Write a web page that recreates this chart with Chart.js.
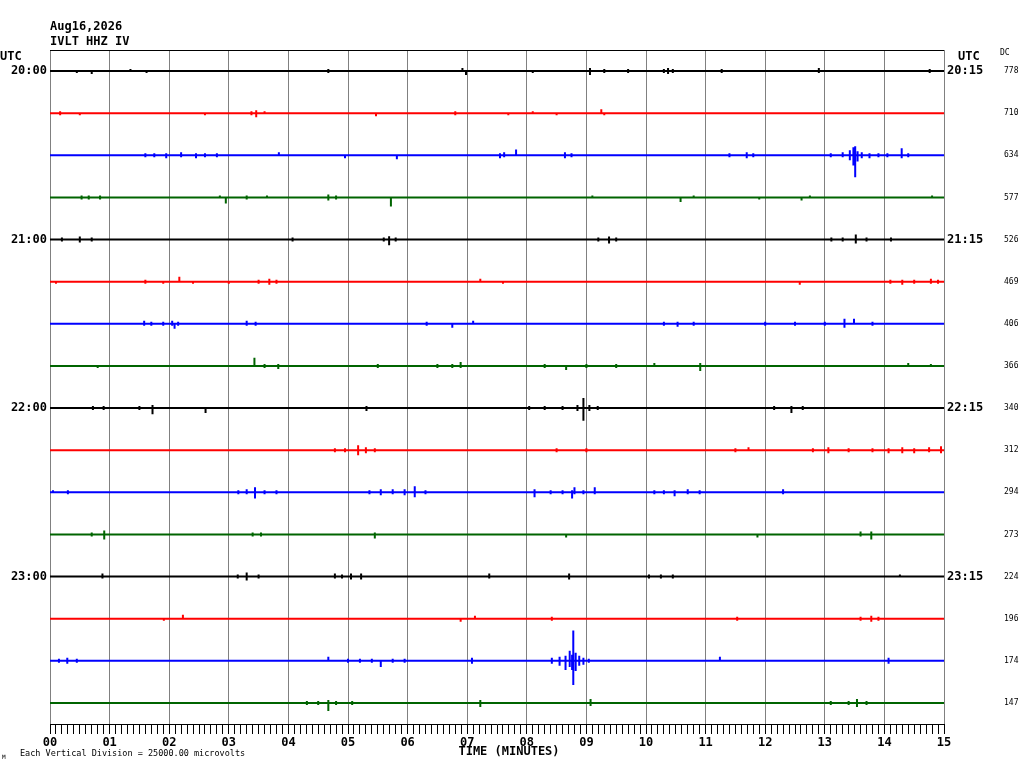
<!DOCTYPE html>
<html>
<head>
<meta charset="utf-8">
<title>IVLT HHZ IV helicorder</title>
<script src="https://cdn.jsdelivr.net/npm/chart.js@4.4.1/dist/chart.umd.min.js"></script>
<style>
  html, body { margin: 0; padding: 0; background: #fff; }
  #heli { display: block; }
</style>
</head>
<body>
<canvas id="heli" width="1024" height="768"></canvas>
<script>
// one row = 15 minutes of trace, 16 rows from 20:00 to 23:45 UTC
const stationLabel = 'IVLT HHZ IV';
const dateLabel = 'Aug16,2026';
const leftTimes = ['20:00', '21:00', '22:00', '23:00'];
const rightTimes = ['20:15', '21:15', '22:15', '23:15'];
const dcValues = ['778', '710', '634', '577', '526', '469', '406', '366',
                  '340', '312', '294', '273', '224', '196', '174', '147'];
const xTickLabels = ['00', '01', '02', '03', '04', '05', '06', '07',
                     '08', '09', '10', '11', '12', '13', '14', '15'];
const microvoltsPerDivision = 25000;

// events: [minute, up (mV), down (mV)]
const ev2000 = [[0.12,0.6,0.6],[0.45,0.6,1.2],[0.70,0.6,1.8],[1.05,0.6,0.6],[1.35,1.2,0.6],[1.62,0.6,1.2],[2.2,0.6,0.6],[2.9,0.6,0.6],[3.5,0.6,0.6],[4.2,0.6,0.6],[4.67,1.2,1.2],[5.3,0.6,0.6],[6.1,0.6,0.6],[6.6,0.6,0.6],[6.92,1.8,0.6],[6.98,0.6,2.4],[7.5,0.6,0.6],[8.1,0.6,1.2],[8.7,0.6,0.6],[9.06,1.8,2.4],[9.3,1.2,1.2],[9.7,1.2,1.2],[10.3,1.2,1.2],[10.37,1.8,1.8],[10.45,1.2,1.2],[11.0,0.6,0.6],[11.27,1.2,1.2],[11.9,0.6,0.6],[12.5,0.6,0.6],[12.9,1.8,1.2],[13.4,0.6,0.6],[14.1,0.6,0.6],[14.76,1.2,1.2]];
const ev2015 = [[0.17,1.2,1.2],[0.5,0.6,1.2],[0.9,0.6,0.6],[1.4,0.6,0.6],[2.0,0.6,0.6],[2.6,0.6,1.2],[3.0,0.6,0.6],[3.38,1.2,1.2],[3.46,1.8,2.4],[3.6,1.2,0.6],[4.3,0.6,0.6],[5.0,0.6,0.6],[5.47,0.6,1.8],[5.9,0.6,0.6],[6.4,0.6,0.6],[6.8,1.2,1.2],[7.2,0.6,0.6],[7.69,0.6,1.2],[8.1,1.2,0.6],[8.5,0.6,1.2],[9.0,0.6,0.6],[9.25,2.4,0.6],[9.3,0.6,1.2],[9.9,0.6,0.6],[10.5,0.6,0.6],[11.2,0.6,0.6],[12.0,0.6,0.6],[12.8,0.6,0.6],[13.4,0.6,0.6],[14.2,0.6,0.6]];
const ev2030 = [[0.5,0.6,0.6],[1.0,0.6,0.6],[1.6,1.2,1.2],[1.75,1.2,1.2],[1.95,1.2,1.8],[2.2,1.8,1.2],[2.45,1.2,1.8],[2.6,1.2,1.2],[2.8,1.2,1.2],[3.2,0.6,0.6],[3.84,1.8,0.6],[4.3,0.6,0.6],[4.95,0.6,1.8],[5.4,0.6,0.6],[5.82,0.6,2.4],[6.3,0.6,0.6],[6.8,0.6,0.6],[7.2,0.6,0.6],[7.55,1.2,1.8],[7.62,1.8,1.2],[7.82,3.4,0.6],[8.2,0.6,0.6],[8.64,1.8,1.8],[8.75,1.2,1.2],[9.3,0.6,0.6],[10.0,0.6,0.6],[10.6,0.6,0.6],[11.4,1.2,1.2],[11.69,1.8,1.8],[11.8,1.2,1.2],[12.3,0.6,0.6],[12.8,0.6,0.6],[13.1,1.2,1.2],[13.3,1.8,1.2],[13.42,3.0,3.0],[13.48,4.8,6.0],[13.51,5.4,13.0],[13.55,2.4,3.6],[13.62,1.8,1.8],[13.75,1.2,1.8],[13.9,1.2,1.2],[14.05,1.2,1.2],[14.29,4.2,1.8],[14.4,1.2,1.2],[14.7,0.6,0.6]];
const ev2045 = [[0.3,0.6,0.6],[0.53,1.2,1.2],[0.65,1.2,1.2],[0.84,1.2,1.2],[1.3,0.6,0.6],[1.9,0.6,0.6],[2.5,0.6,0.6],[2.85,1.2,0.6],[2.95,0.6,3.6],[3.3,1.2,1.2],[3.64,1.2,0.6],[3.9,0.6,0.6],[4.5,0.6,0.6],[4.67,1.8,1.8],[4.8,1.2,1.2],[5.2,0.6,0.6],[5.72,0.6,5.4],[6.2,0.6,0.6],[6.8,0.6,0.6],[7.4,0.6,0.6],[8.0,0.6,0.6],[8.6,0.6,0.6],[9.1,1.2,0.6],[9.6,0.6,0.6],[10.2,0.6,0.6],[10.58,0.6,2.7],[10.8,1.2,0.6],[11.4,0.6,0.6],[11.9,0.6,1.2],[12.4,0.6,0.6],[12.61,0.6,1.8],[12.75,1.2,0.6],[13.3,0.6,0.6],[14.0,0.6,0.6],[14.8,1.2,0.6]];
const ev2100 = [[0.2,1.2,1.2],[0.5,1.8,1.8],[0.7,1.2,1.2],[1.2,0.6,0.6],[1.8,0.6,0.6],[2.5,0.6,0.6],[3.2,0.6,0.6],[3.7,0.6,0.6],[4.07,1.2,1.2],[4.6,0.6,0.6],[5.2,0.6,0.6],[5.6,1.2,1.2],[5.69,2.0,3.4],[5.8,1.2,1.2],[6.3,0.6,0.6],[7.0,0.6,0.6],[7.6,0.6,0.6],[8.3,0.6,0.6],[9.2,1.2,1.2],[9.38,1.8,2.4],[9.5,1.2,1.2],[10.2,0.6,0.6],[10.8,0.6,0.6],[11.5,0.6,0.6],[12.2,0.6,0.6],[12.9,0.6,0.6],[13.11,1.2,1.2],[13.3,1.2,1.2],[13.52,3.0,2.4],[13.7,1.2,1.2],[14.11,1.2,1.2],[14.6,0.6,0.6]];
const ev2115 = [[0.1,0.6,1.2],[0.6,0.6,0.6],[1.2,0.6,0.6],[1.6,1.2,1.2],[1.9,0.6,1.2],[2.17,3.0,0.6],[2.4,0.6,1.2],[3.0,0.6,1.2],[3.5,1.2,1.2],[3.68,1.8,1.8],[3.8,1.2,1.2],[4.2,0.6,0.6],[4.7,0.6,0.6],[5.3,0.6,0.6],[6.0,0.6,0.6],[6.5,0.6,0.6],[7.22,1.8,0.6],[7.6,0.6,1.2],[8.2,0.6,0.6],[9.0,0.6,0.6],[9.8,0.6,0.6],[10.6,0.6,0.6],[11.4,0.6,0.6],[12.2,0.6,0.6],[12.58,0.6,1.8],[13.2,0.6,0.6],[13.8,0.6,0.6],[14.1,1.2,1.2],[14.3,1.2,1.8],[14.5,1.2,1.2],[14.78,1.8,1.2],[14.9,1.2,1.2]];
const ev2130 = [[0.3,0.6,0.6],[0.9,0.6,0.6],[1.58,1.8,1.2],[1.7,1.2,1.2],[1.9,1.2,1.2],[2.05,1.8,1.2],[2.09,0.6,3.0],[2.15,1.2,1.2],[2.6,0.6,0.6],[3.0,0.6,0.6],[3.3,1.8,1.2],[3.45,1.2,1.2],[3.9,0.6,0.6],[4.5,0.6,0.6],[5.1,0.6,0.6],[5.7,0.6,0.6],[6.32,1.2,1.2],[6.75,0.6,2.4],[7.10,1.8,0.6],[7.6,0.6,0.6],[8.3,0.6,0.6],[9.0,0.6,0.6],[9.6,0.6,0.6],[10.3,1.2,1.2],[10.53,1.2,1.8],[10.8,1.2,1.2],[11.4,0.6,0.6],[12.0,1.2,1.2],[12.5,1.2,1.2],[13.0,1.2,1.2],[13.33,3.0,2.4],[13.49,3.0,0.6],[13.8,1.2,1.2],[14.4,0.6,0.6]];
const ev2145 = [[0.3,0.6,0.6],[0.8,0.6,1.2],[1.3,0.6,0.6],[1.9,0.6,0.6],[2.4,0.6,0.6],[3.1,0.6,0.6],[3.43,4.8,0.6],[3.6,1.2,1.2],[3.83,1.2,1.8],[4.4,0.6,0.6],[5.0,0.6,0.6],[5.5,1.2,1.2],[6.0,0.6,0.6],[6.5,1.2,1.2],[6.75,1.2,1.2],[6.89,2.4,1.2],[7.4,0.6,0.6],[8.0,0.6,0.6],[8.3,1.2,1.2],[8.66,0.6,2.4],[9.0,1.2,1.2],[9.5,1.2,1.2],[10.14,1.8,0.6],[10.5,0.6,0.6],[10.91,1.8,3.0],[11.5,0.6,0.6],[12.2,0.6,0.6],[12.9,0.6,0.6],[13.6,0.6,0.6],[14.4,1.8,0.6],[14.78,1.2,0.6]];
const ev2200 = [[0.2,0.6,0.6],[0.72,1.2,1.2],[0.9,1.2,1.2],[1.5,1.2,1.2],[1.72,1.8,3.6],[2.0,0.6,0.6],[2.61,0.6,3.0],[3.2,0.6,0.6],[3.8,0.6,0.6],[4.4,0.6,0.6],[5.0,0.6,0.6],[5.31,1.2,1.8],[5.9,0.6,0.6],[6.5,0.6,0.6],[7.1,0.6,0.6],[7.6,0.6,0.6],[8.04,1.2,1.2],[8.3,1.2,1.2],[8.6,1.2,1.2],[8.85,1.8,1.8],[8.95,6.0,7.6],[9.05,1.8,1.8],[9.19,1.2,1.2],[9.6,0.6,0.6],[10.1,0.6,0.6],[10.8,0.6,0.6],[11.5,0.6,0.6],[12.15,1.2,1.2],[12.44,1.2,3.0],[12.63,1.2,1.2],[13.3,0.6,0.6],[14.0,0.6,0.6],[14.7,0.6,0.6]];
const ev2215 = [[0.3,0.6,0.6],[1.0,0.6,0.6],[1.7,0.6,0.6],[2.4,0.6,0.6],[3.1,0.6,0.6],[3.8,0.6,0.6],[4.5,0.6,0.6],[4.78,1.2,1.2],[4.95,1.2,1.2],[5.17,3.0,3.0],[5.3,1.8,1.8],[5.45,1.2,1.2],[6.0,0.6,0.6],[6.6,0.6,0.6],[7.3,0.6,0.6],[8.0,0.6,0.6],[8.5,1.2,1.2],[9.0,1.2,1.2],[9.5,0.6,0.6],[10.2,0.6,0.6],[10.9,0.6,0.6],[11.5,1.2,1.2],[11.72,1.8,0.6],[12.2,0.6,0.6],[12.8,1.2,1.2],[13.06,1.8,1.8],[13.4,1.2,1.2],[13.8,1.2,1.2],[14.07,1.2,1.8],[14.3,1.8,1.8],[14.5,1.2,1.8],[14.75,1.8,1.2],[14.95,2.4,1.8]];
const ev2230 = [[0.05,1.2,0.6],[0.3,1.2,1.2],[0.8,0.6,0.6],[1.4,0.6,0.6],[2.0,0.6,0.6],[2.6,0.6,0.6],[3.16,1.2,1.2],[3.3,1.8,1.2],[3.44,3.0,3.6],[3.6,1.2,1.2],[3.8,1.2,1.2],[4.3,0.6,0.6],[4.9,0.6,0.6],[5.36,1.2,1.2],[5.55,1.8,1.8],[5.75,1.8,1.2],[5.95,1.8,1.8],[6.12,3.6,3.0],[6.3,1.2,1.2],[6.8,0.6,0.6],[7.3,0.6,0.6],[7.8,0.6,0.6],[8.13,1.8,3.0],[8.4,1.2,1.2],[8.6,1.2,1.2],[8.76,1.2,3.6],[8.8,3.0,1.2],[8.95,1.2,1.2],[9.14,3.0,1.2],[9.5,0.6,0.6],[9.8,0.6,0.6],[10.14,1.2,1.2],[10.3,1.2,1.2],[10.48,1.2,2.4],[10.7,1.8,1.2],[10.9,1.2,1.2],[11.5,0.6,0.6],[12.0,0.6,0.6],[12.3,1.8,1.2],[12.6,0.6,0.6],[13.3,0.6,0.6],[14.0,0.6,0.6],[14.7,0.6,0.6]];
const ev2245 = [[0.3,0.6,0.6],[0.7,1.2,1.2],[0.91,2.4,3.0],[1.2,0.6,0.6],[1.9,0.6,0.6],[2.5,0.6,0.6],[3.0,0.6,0.6],[3.4,1.2,1.2],[3.54,1.2,1.2],[3.8,0.6,0.6],[4.4,0.6,0.6],[5.0,0.6,0.6],[5.45,1.2,2.4],[5.9,0.6,0.6],[6.6,0.6,0.6],[7.3,0.6,0.6],[8.0,0.6,0.6],[8.66,0.6,1.8],[9.3,0.6,0.6],[10.0,0.6,0.6],[10.7,0.6,0.6],[11.3,0.6,0.6],[11.87,0.6,1.8],[12.5,0.6,0.6],[13.2,0.6,0.6],[13.6,1.8,1.2],[13.78,1.8,3.0],[14.2,0.6,0.6],[14.8,0.6,0.6]];
const ev2300 = [[0.3,0.6,0.6],[0.88,1.8,1.2],[1.4,0.6,0.6],[2.0,0.6,0.6],[2.6,0.6,0.6],[3.15,1.2,1.2],[3.30,2.4,2.4],[3.5,1.2,1.2],[4.1,0.6,0.6],[4.78,1.8,1.2],[4.9,1.2,1.2],[5.05,1.8,1.8],[5.22,1.8,1.8],[5.7,0.6,0.6],[6.3,0.6,0.6],[6.9,0.6,0.6],[7.37,1.8,1.2],[7.9,0.6,0.6],[8.4,0.6,0.6],[8.71,1.8,1.8],[9.3,0.6,0.6],[9.8,0.6,0.6],[10.05,1.2,1.2],[10.25,1.2,1.2],[10.45,1.2,1.2],[11.0,0.6,0.6],[11.7,0.6,0.6],[12.4,0.6,0.6],[13.1,0.6,0.6],[13.8,0.6,0.6],[14.26,1.2,0.6],[14.7,0.6,0.6]];
const ev2315 = [[0.3,0.6,0.6],[0.9,0.6,0.6],[1.5,0.6,0.6],[1.91,0.6,1.2],[2.23,2.4,0.6],[2.7,0.6,0.6],[3.3,0.6,0.6],[4.0,0.6,0.6],[4.7,0.6,0.6],[5.3,0.6,0.6],[6.0,0.6,0.6],[6.5,0.6,0.6],[6.89,0.6,1.8],[7.13,1.8,0.6],[7.6,0.6,0.6],[8.1,0.6,0.6],[8.42,1.2,1.2],[9.0,0.6,0.6],[9.6,0.6,0.6],[10.3,0.6,0.6],[11.0,0.6,0.6],[11.53,1.2,1.2],[12.1,0.6,0.6],[12.7,0.6,0.6],[13.2,0.6,0.6],[13.6,1.2,1.2],[13.78,1.8,1.8],[13.9,1.2,1.2],[14.5,0.6,0.6]];
const ev2330 = [[0.15,1.2,1.2],[0.29,1.8,1.8],[0.45,1.2,1.2],[1.0,0.6,0.6],[1.7,0.6,0.6],[2.4,0.6,0.6],[3.0,0.6,0.6],[3.6,0.6,0.6],[4.2,0.6,0.6],[4.67,2.4,0.6],[5.0,1.2,1.2],[5.2,1.2,1.2],[5.4,1.2,1.2],[5.55,0.6,3.6],[5.75,1.2,1.2],[5.95,1.2,1.2],[6.5,0.6,0.6],[7.08,1.8,1.8],[7.4,0.6,0.6],[7.9,0.6,0.6],[8.3,0.6,0.6],[8.42,1.8,1.8],[8.55,2.4,3.0],[8.65,3.0,5.4],[8.72,6.0,3.6],[8.76,3.6,5.4],[8.78,18.0,14.3],[8.82,4.8,6.0],[8.88,3.0,3.0],[8.95,1.8,2.4],[9.04,1.2,1.2],[9.5,0.6,0.6],[10.2,0.6,0.6],[10.8,0.6,0.6],[11.24,2.4,0.6],[11.6,0.6,0.6],[12.3,0.6,0.6],[13.0,0.6,0.6],[13.6,0.6,0.6],[14.07,1.8,1.8],[14.5,0.6,0.6]];
const ev2345 = [[0.3,0.6,0.6],[1.0,0.6,0.6],[1.7,0.6,0.6],[2.4,0.6,0.6],[3.1,0.6,0.6],[3.8,0.6,0.6],[4.31,1.2,1.2],[4.5,1.2,1.2],[4.67,1.8,4.8],[4.8,1.2,1.2],[5.07,1.2,1.2],[5.6,0.6,0.6],[6.2,0.6,0.6],[6.8,0.6,0.6],[7.22,1.8,2.4],[7.6,0.6,0.6],[8.2,0.6,0.6],[8.7,0.6,0.6],[9.07,2.4,1.8],[9.5,0.6,0.6],[10.2,0.6,0.6],[10.9,0.6,0.6],[11.6,0.6,0.6],[12.3,0.6,0.6],[13.1,1.2,1.2],[13.4,1.2,1.2],[13.54,2.4,2.4],[13.7,1.2,1.2],[14.3,0.6,0.6],[14.8,0.6,0.6]];

const traceEvents = [ev2000, ev2015, ev2030, ev2045, ev2100, ev2115, ev2130, ev2145,
                     ev2200, ev2215, ev2230, ev2245, ev2300, ev2315, ev2330, ev2345];
const traceColors = ['#000000', '#ff0000', '#0000ff', '#006400'];

const FONT = "'DejaVu Sans Mono', monospace";
const rows = traceEvents.map((_, i) => i);

// mV -> fraction of one vertical division (row spacing)
function toDiv(mv) {
  return mv * 1000 / microvoltsPerDivision;
}

function buildTrace(events, row) {
  const pts = [{ x: 0, y: row }];
  events.slice().sort((a, b) => a[0] - b[0]).forEach(e => {
    pts.push({ x: e[0], y: row });
    pts.push({ x: e[0], y: row - toDiv(e[1]) });
    pts.push({ x: e[0], y: row + toDiv(e[2]) });
    pts.push({ x: e[0], y: row });
  });
  pts.push({ x: 15, y: row });
  return pts;
}

const datasets = traceEvents.map((ev, i) => ({
  data: buildTrace(ev, i),
  borderColor: traceColors[i % 4],
  borderWidth: 2,
  pointRadius: 0,
  showLine: true,
  tension: 0,
  yAxisID: 'y'
}));

function rowTicks(axis) {
  axis.ticks = rows.map(v => ({ value: v }));
}

const rowScale = { type: 'linear', min: -0.5, max: 15.5, reverse: true, afterBuildTicks: rowTicks };

const extrasPlugin = {
  id: 'extras',
  afterDraw(chart) {
    const ctx = chart.ctx;
    const a = chart.chartArea;
    ctx.save();
    // top frame line
    ctx.strokeStyle = '#000';
    ctx.lineWidth = 1;
    ctx.beginPath();
    ctx.moveTo(a.left, a.top + 0.5);
    ctx.lineTo(a.right, a.top + 0.5);
    ctx.stroke();

    ctx.fillStyle = '#000';
    ctx.textBaseline = 'middle';
    ctx.textAlign = 'left';
    ctx.font = 'bold 12px ' + FONT;
    ctx.fillText(dateLabel, 50, 27);
    ctx.fillText(stationLabel, 50, 42);
    ctx.fillText('UTC', 0, 57);
    ctx.fillText('UTC', 958, 57);
    ctx.textAlign = 'center';
    ctx.fillText('TIME (MINUTES)', 509, 752);

    ctx.textAlign = 'left';
    ctx.font = '8px ' + FONT;
    ctx.fillText('DC', 1000, 53);
    ctx.font = '8.5px ' + FONT;
    ctx.fillText('Each Vertical Division = ' + (microvoltsPerDivision).toFixed(2) + ' microvolts', 20, 754);
    ctx.font = '6px ' + FONT;
    ctx.fillText('M', 2, 757);
    ctx.restore();
  }
};

new Chart(document.getElementById('heli'), {
  type: 'scatter',
  data: { datasets },
  options: {
    responsive: false,
    animation: false,
    events: [],
    layout: { padding: { top: 50, left: 0, right: 0, bottom: 0 } },
    plugins: { legend: { display: false }, tooltip: { enabled: false } },
    scales: {
      x: {
        type: 'linear',
        min: 0,
        max: 15,
        position: 'bottom',
        afterBuildTicks(axis) {
          axis.ticks = Array.from({ length: 151 }, (_, k) => ({ value: k / 10 }));
        },
        afterFit(scale) { scale.height = 44; },
        border: { display: true, color: '#000', width: 1 },
        grid: {
          color: c => (c.index % 10 === 0 ? '#808080' : 'rgba(0,0,0,0)'),
          lineWidth: 1,
          tickColor: '#000',
          tickLength: 10,
          drawTicks: true
        },
        ticks: {
          autoSkip: false,
          maxRotation: 0,
          padding: 2,
          color: '#000',
          font: { family: FONT, size: 12, weight: 'bold' },
          callback: (v, i) => (i % 10 === 0 ? xTickLabels[i / 10] : '')
        }
      },
      y: Object.assign({}, rowScale, {
        position: 'left',
        afterFit(scale) { scale.width = 50; },
        border: { display: false },
        grid: { display: false, drawTicks: false },
        ticks: {
          padding: 3,
          color: '#000',
          font: { family: FONT, size: 12, weight: 'bold' },
          callback: (v) => (v % 4 === 0 ? leftTimes[v / 4] : '')
        }
      }),
      y2: Object.assign({}, rowScale, {
        position: 'right',
        weight: 0,
        afterFit(scale) { scale.width = 55; },
        border: { display: false },
        grid: { display: false, drawTicks: false },
        ticks: {
          padding: 3,
          color: '#000',
          font: { family: FONT, size: 12, weight: 'bold' },
          callback: (v) => (v % 4 === 0 ? rightTimes[v / 4] : '')
        }
      }),
      y3: Object.assign({}, rowScale, {
        position: 'right',
        weight: 1,
        afterFit(scale) { scale.width = 25; },
        border: { display: false },
        grid: { display: false, drawTicks: false },
        ticks: {
          padding: 5,
          color: '#000',
          font: { family: FONT, size: 8 },
          callback: (v) => dcValues[v]
        }
      })
    }
  },
  plugins: [extrasPlugin]
});
</script>
</body>
</html>
